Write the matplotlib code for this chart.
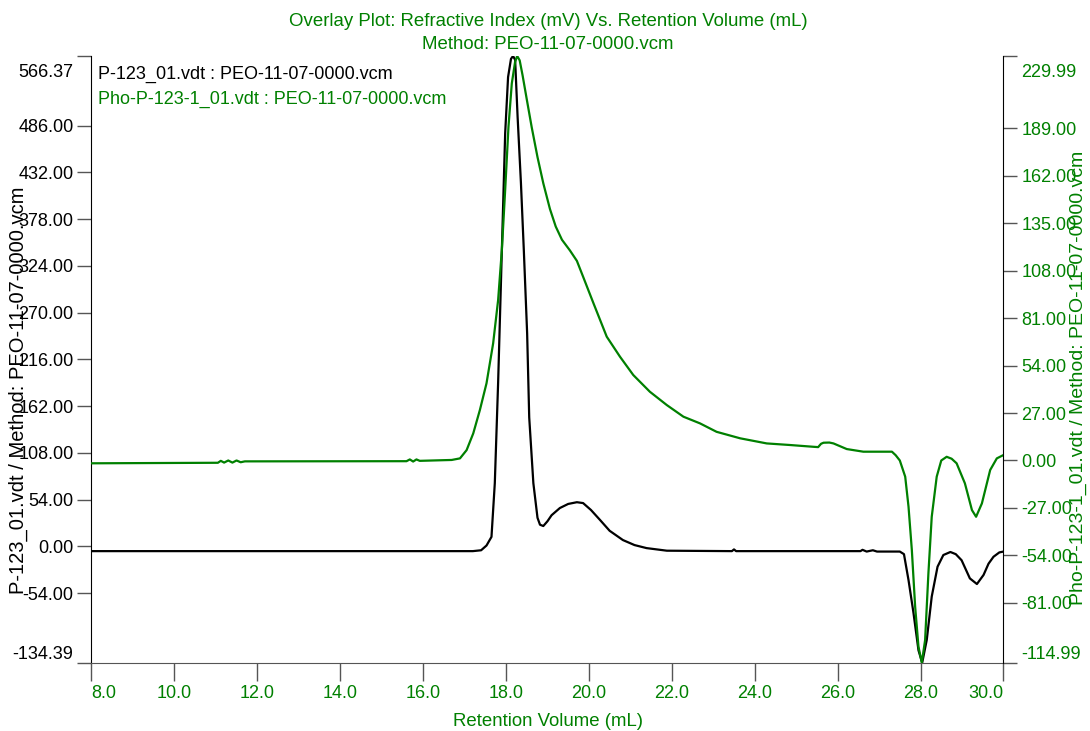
import matplotlib.pyplot as plt
from matplotlib.transforms import ScaledTranslation

plt.rcParams['font.family'] = ['Liberation Sans', 'DejaVu Sans']

GREEN = '#008000'
TICK_GRAY = '#555555'

title_lines = ["Overlay Plot: Refractive Index (mV) Vs. Retention Volume (mL)",
               "Method: PEO-11-07-0000.vcm"]
black_name = "P-123_01.vdt : PEO-11-07-0000.vcm"
green_name = "Pho-P-123-1_01.vdt : PEO-11-07-0000.vcm"
left_label = "P-123_01.vdt / Method: PEO-11-07-0000.vcm"
right_label = "Pho-P-123-1_01.vdt / Method: PEO-11-07-0000.vcm"
x_label = "Retention Volume (mL)"

x_ticks = [8.0, 10.0, 12.0, 14.0, 16.0, 18.0, 20.0, 22.0, 24.0, 26.0, 28.0, 30.0]
left_ticks = [-134.39, -54.0, 0.0, 54.0, 108.0, 162.0, 216.0, 270.0,
              324.0, 378.0, 432.0, 486.0, 566.37]
right_ticks = [-114.99, -81.0, -54.0, -27.0, 0.0, 27.0, 54.0, 81.0,
               108.0, 135.0, 162.0, 189.0, 229.99]

# P-123_01 trace (left axis, mV)
black_x = [8.0, 17.20, 17.40, 17.53, 17.65, 17.73, 17.81, 17.90, 17.98, 18.05,
           18.12, 18.17, 18.22, 18.28, 18.36, 18.43, 18.51, 18.56, 18.66, 18.76,
           18.82, 18.90, 19.00, 19.10, 19.30, 19.50, 19.71, 19.86, 20.05, 20.27,
           20.50, 20.82, 21.10, 21.39, 21.88, 23.45, 23.50, 23.55, 26.55, 26.60,
           26.70, 26.85, 26.95, 27.50, 27.60, 27.71, 27.83, 27.95, 28.04, 28.15,
           28.27, 28.41, 28.55, 28.72, 28.85, 28.99, 29.19, 29.36, 29.52, 29.64,
           29.76, 29.90, 30.0]
black_y = [-5.5, -5.5, -4.5, 1.0, 11.0, 73.0, 189.0, 342.0, 477.0, 542.0,
           563.0, 566.37, 562.0, 496.0, 420.0, 342.0, 246.0, 149.0, 73.0, 33.0,
           25.0, 23.5, 29.0, 36.0, 44.3, 49.0, 51.0, 50.0, 42.0, 30.4,
           18.0, 7.3, 1.5, -2.0, -5.0, -5.5, -3.5, -5.5, -5.5, -4.0,
           -6.0, -4.5, -6.0, -6.0, -9.0, -39.0, -77.0, -120.0, -134.39, -108.0,
           -58.0, -23.5, -10.0, -6.5, -9.0, -16.0, -37.0, -43.5, -33.0, -20.0,
           -12.0, -7.0, -6.0]

# Pho-P-123-1_01 trace (right axis, mV)
green_x = [8.0, 11.05, 11.12, 11.20, 11.30, 11.40, 11.50, 11.60, 11.70, 15.60,
           15.68, 15.76, 15.84, 15.92, 16.69, 16.89, 17.05, 17.21, 17.37, 17.53,
           17.69, 17.81, 17.90, 17.98, 18.06, 18.14, 18.22, 18.27, 18.33, 18.40,
           18.50, 18.62, 18.76, 18.90, 19.06, 19.20, 19.35, 19.54, 19.71, 19.86,
           20.11, 20.43, 20.75, 21.07, 21.23, 21.47, 21.88, 22.28, 22.68, 23.08,
           23.65, 24.29, 24.85, 25.41, 25.53, 25.60, 25.66, 25.80, 25.90, 26.22,
           26.62, 27.31, 27.40, 27.50, 27.63, 27.71, 27.79, 27.87, 27.95, 28.03,
           28.11, 28.19, 28.27, 28.39, 28.50, 28.63, 28.75, 28.87, 29.07, 29.24,
           29.34, 29.48, 29.68, 29.84, 30.0]
green_y = [-1.6, -1.3, -0.2, -1.2, 0.0, -1.2, 0.0, -1.0, -0.5, -0.4,
           0.6, -0.6, 0.6, -0.2, 0.3, 1.2, 5.9, 15.4, 28.7, 43.9,
           66.6, 91.2, 119.7, 153.8, 189.8, 214.4, 226.7, 229.99, 227.5, 219.0,
           205.5, 189.5, 172.5, 157.6, 143.0, 133.0, 125.5, 119.5, 113.5, 104.5,
           89.4, 70.4, 59.0, 48.6, 44.8, 39.1, 31.5, 24.9, 21.1, 16.3,
           12.6, 9.7, 8.8, 7.8, 7.6, 9.5, 10.1, 10.2, 9.7, 6.5,
           5.0, 5.0, 3.0, 0.0, -9.2, -26.3, -50.9, -83.2, -105.9, -114.99,
           -102.1, -64.0, -32.0, -9.2, 0.0, 2.1, 1.0, -1.6, -13.0, -28.2,
           -32.0, -24.4, -5.4, 1.2, 3.1]

fig = plt.figure(figsize=(10.9, 7.31), dpi=100)
ax = fig.add_axes([0.0839, 0.0934, 0.8367, 0.8300])
ax2 = ax.twinx()

ax.plot(black_x, black_y, color='black', lw=1.6)
ax2.plot(green_x, green_y, color=GREEN, lw=1.6)

ax.set_xlim(8.0, 30.0)
ax.set_ylim(left_ticks[0], left_ticks[-1])
ax2.set_ylim(right_ticks[0], right_ticks[-1])

ax.set_xticks(x_ticks)
ax.set_xticklabels([f"{v:.1f}" for v in x_ticks])
ax.set_yticks(left_ticks)
ax.set_yticklabels([f"{v:.2f}" for v in left_ticks])
ax2.set_yticks(right_ticks)
ax2.set_yticklabels([f"{v:.2f}" for v in right_ticks])

ax.tick_params(axis='x', direction='out', length=13, width=1, color=TICK_GRAY,
               labelcolor=GREEN, labelsize=13, pad=3)
ax.tick_params(axis='y', direction='out', length=10, width=1, color=TICK_GRAY,
               labelcolor='black', labelsize=13, pad=3)
ax2.tick_params(axis='y', direction='out', length=10, width=1, color=TICK_GRAY,
                labelcolor=GREEN, labelsize=13, pad=3)

# end labels sit inside the axis range
xl = ax.get_xticklabels()
xl[0].set_ha('left')
xl[-1].set_ha('right')
shift_down = ScaledTranslation(0, -0.08, fig.dpi_scale_trans)
for labels in (ax.get_yticklabels(), ax2.get_yticklabels()):
    labels[0].set_va('bottom')
    labels[-1].set_va('top')
    labels[-1].set_transform(labels[-1].get_transform() + shift_down)

for a in (ax, ax2):
    a.spines['top'].set_visible(False)
    a.patch.set_visible(False)
ax.spines['right'].set_visible(False)
ax.spines['left'].set_color('black')
ax.spines['bottom'].set_color(TICK_GRAY)
ax2.spines['left'].set_visible(False)
ax2.spines['bottom'].set_visible(False)
ax2.spines['right'].set_color('black')

ax.text(0.007, 0.970, black_name, transform=ax.transAxes, color='black',
        fontsize=13, ha='left', va='center')
ax.text(0.007, 0.929, green_name, transform=ax.transAxes, color=GREEN,
        fontsize=13, ha='left', va='center')

fig.text(0.5028, 0.971, title_lines[0], color=GREEN, fontsize=13.4, ha='center', va='center')
fig.text(0.5028, 0.939, title_lines[1], color=GREEN, fontsize=13.4, ha='center', va='center')
fig.text(0.5028, 0.013, x_label, color=GREEN, fontsize=13.4, ha='center', va='center')
fig.text(0.0165, 0.466, left_label, color='black', fontsize=14.5, rotation=90,
         ha='center', va='center')
fig.text(0.989, 0.483, right_label, color=GREEN, fontsize=14, rotation=90,
         ha='center', va='center')

fig.savefig('out.png', dpi=100)
